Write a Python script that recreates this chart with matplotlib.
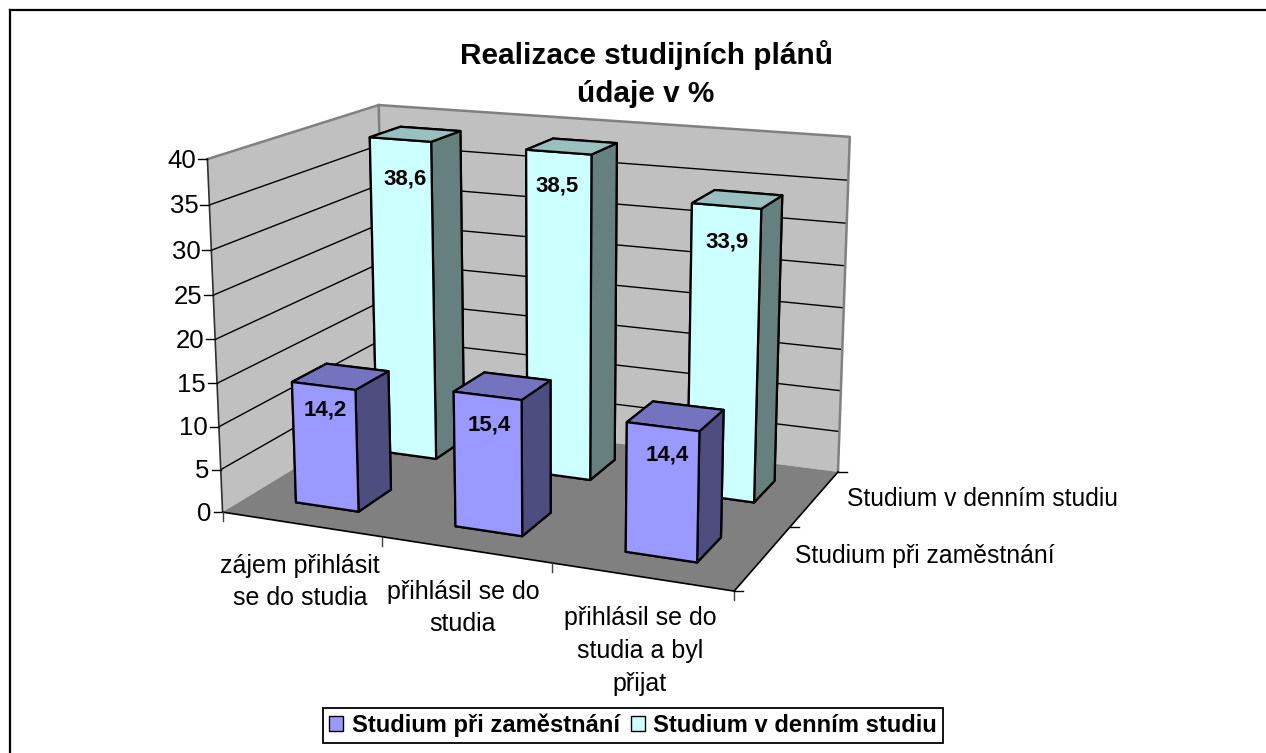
""" 3D column chart, Excel style: Realizace studijnich planu"""

import numpy as np
from matplotlib import pyplot as plt
from matplotlib import lines as mlines
from matplotlib import patches as mpatches
from mpl_toolkits.mplot3d.art3d import Poly3DCollection

W, H = 1266, 753

# Data
categories = ['zájem přihlásit\nse do studia', 'přihlásil se do\nstudia',
              'přihlásil se do\nstudia a byl\npřijat']
series_names = ['Studium při zaměstnání', 'Studium v denním studiu']
part_time = [14.2, 15.4, 14.4]
full_time = [38.6, 38.5, 33.9]
value_ticks = [0, 5, 10, 15, 20, 25, 30, 35, 40]
title = 'Realizace studijních plánů\núdaje v %'

# Colours: front, top, side
part_cols = ('#9999FF', '#7373BF', '#4D4D80')
full_cols = ('#CCFFFF', '#99BFBF', '#668080')
WALL, FLOOR = '#C0C0C0', '#808080'

# Camera: box corners (cat, depth, value) seen at these pixels
XMAX, YMAX, ZMAX = 3., 2., 40.
cam_world = [(0, 0, 0), (1, 0, 0), (2, 0, 0), (3, 0, 0), (3, 1, 0), (3, 2, 0), (0, 2, 0),
             (0, 0, 40), (0, 2, 40), (3, 2, 40)]
cam_pix = [(222, 511), (382, 537), (552, 564), (734, 591), (790, 527), (838, 471), (386, 414),
           (208, 159), (378, 105), (850, 137)]


def fit_camera(world, pix):
    # Least squares for the 3x4 projection, last entry fixed to 1
    rows, rhs = [], []
    for (x, y, z), (u, v) in zip(world, pix):
        rows.append([x, y, z, 1, 0, 0, 0, 0, -u * x, -u * y, -u * z])
        rows.append([0, 0, 0, 0, x, y, z, 1, -v * x, -v * y, -v * z])
        rhs += [u, v]
    p = np.linalg.lstsq(np.array(rows, float), np.array(rhs, float), rcond=None)[0]
    # Third row only orders the faces: far = large
    return np.array([p[:4], p[4:8], [-0.3, 1., -0.02, 2.], [p[8], p[9], p[10], 1.]])


def to_pix(M, x, y, z):
    v = M @ np.array([x, y, z, 1.])
    return v[0] / v[3], v[1] / v[3]


def draw_bar(ax, xc, yc, val, cols, zorder):
    front, top, side = cols
    # Face order of bar3d: bottom, top, front, back, left, right
    art = ax.bar3d(xc - BAR / 2, yc - BAR / 2, 0, BAR, BAR, val, shade=False,
                   color=[FLOOR, top, front, front, side, side],
                   edgecolor='black', linewidth=1.6, zorder=zorder)
    return art


M = fit_camera(cam_world, cam_pix)
BAR = 0.4

fig = plt.figure(figsize=(W / 100., H / 100.), dpi=100)
plt.rcParams['font.family'] = 'Liberation Sans'
ax = fig.add_axes([0, 0, 1, 1], projection='3d')
ax.set_axis_off()
ax.computed_zorder = False
# Ortho flag stops Line3D clipping to [-1, 1]; camera is our own anyway
ax.set_proj_type('ortho')
ax.get_proj = lambda: M
ax.apply_aspect = lambda position=None: None
ax.viewLim.intervalx = (0, W)
ax.viewLim.intervaly = (H, 0)

# Walls and floor
left_wall = [(0, 0, 0), (0, YMAX, 0), (0, YMAX, ZMAX), (0, 0, ZMAX)]
back_wall = [(0, YMAX, 0), (XMAX, YMAX, 0), (XMAX, YMAX, ZMAX), (0, YMAX, ZMAX)]
floor = [(0, 0, 0), (XMAX, 0, 0), (XMAX, YMAX, 0), (0, YMAX, 0)]
ax.add_collection3d(Poly3DCollection([left_wall, back_wall], facecolors=WALL,
                                     edgecolors='none', zorder=1))
ax.add_collection3d(Poly3DCollection([floor], facecolors=FLOOR, edgecolors='none', zorder=2))

# Grid lines
for val in value_ticks[1:-1]:
    ax.plot([0, 0, XMAX], [0, YMAX, YMAX], [val, val, val], color='black', lw=1.0, zorder=3)

# Wall outline
ax.plot([0, 0, XMAX, XMAX], [0, YMAX, YMAX, YMAX], [ZMAX, ZMAX, ZMAX, 0], color='#808080',
        lw=1.8, zorder=3)
ax.plot([0, 0], [YMAX, YMAX], [0, ZMAX], color='#808080', lw=1.8, zorder=3)

# Axis lines and floor outline
ax.plot([0, 0], [0, 0], [0, ZMAX], color='#303030', lw=1.2, zorder=4)
ax.plot([0, XMAX, XMAX], [0, 0, YMAX], [0, 0, 0], color='black', lw=1.2, zorder=4)

# Value ticks and labels
for val in value_ticks:
    px, py = to_pix(M, 0, 0, val)
    ax.add_line(mlines.Line2D([px - 9, px], [py, py], color='black', lw=1.0, zorder=4))
    ax.text2D(px - 11, py + 1.5, str(val), transform=ax.transData, ha='right', va='center',
              fontsize=18.5, color='black')

# Category ticks
for ii in range(len(categories) + 1):
    px, py = to_pix(M, ii, 0, 0)
    ax.add_line(mlines.Line2D([px, px], [py, py + 9], color='#404040', lw=1.0, zorder=4))

# Depth ticks
for jj in range(len(series_names) + 1):
    px, py = to_pix(M, XMAX, jj, 0)
    ax.add_line(mlines.Line2D([px, px + 9], [py, py], color='black', lw=1.0, zorder=4))

# Bars, back row first
for ii, val in enumerate(full_time):
    draw_bar(ax, ii + 0.5, 1.5, val, full_cols, 5 + ii)
for ii, val in enumerate(part_time):
    draw_bar(ax, ii + 0.5, 0.5, val, part_cols, 10 + ii)

# Value labels sit on the front face of each bar
full_lab_pos = [(405, 179), (557, 186), (727, 242)]
part_lab_pos = [(325, 410), (489, 425), (667, 455)]
for vals, pos in ((full_time, full_lab_pos), (part_time, part_lab_pos)):
    for val, (px, py) in zip(vals, pos):
        ax.text2D(px, py, f'{val:.1f}'.replace('.', ','), transform=ax.transData, ha='center',
                  va='center', fontsize=16, fontweight='bold', zorder=20)

# Category labels
cat_pos = [(300, 582), (463, 608), (640, 651)]
for lab, (px, py) in zip(categories, cat_pos):
    ax.text2D(px, py, lab, transform=ax.transData, ha='center', va='center', fontsize=18,
              linespacing=1.45)

# Series labels on the depth axis
ax.text2D(847, 499, series_names[1], transform=ax.transData, ha='left', va='center', fontsize=17.7)
ax.text2D(795, 556, series_names[0], transform=ax.transData, ha='left', va='center', fontsize=17.8)

# Title
ax.text2D(646, 74, title, transform=ax.transData, ha='center', va='center', fontsize=21.4,
          fontweight='bold', linespacing=1.45)

# Legend
handles = [mpatches.Patch(facecolor=part_cols[0], edgecolor='black', label=series_names[0]),
           mpatches.Patch(facecolor=full_cols[0], edgecolor='black', label=series_names[1])]
leg = ax.legend(handles=handles, loc='center', ncol=2, bbox_to_anchor=(633 / W, 1 - 725.5 / H),
                bbox_transform=fig.transFigure, fancybox=False, framealpha=1, edgecolor='black',
                prop={'size': 17.1, 'weight': 'bold'}, handlelength=0.6, handleheight=0.6,
                handletextpad=0.35, columnspacing=0.45, borderpad=0.25)
leg.get_frame().set_linewidth(1.3)

# Outer frame, only top and left are inside the picture
fig.add_artist(mlines.Line2D([9.5 / W, 1], [1 - 9.5 / H, 1 - 9.5 / H], color='black', lw=1.6))
fig.add_artist(mlines.Line2D([9.5 / W, 9.5 / W], [0, 1 - 9.5 / H], color='black', lw=1.6))

fig.savefig('out.png', dpi=100)
